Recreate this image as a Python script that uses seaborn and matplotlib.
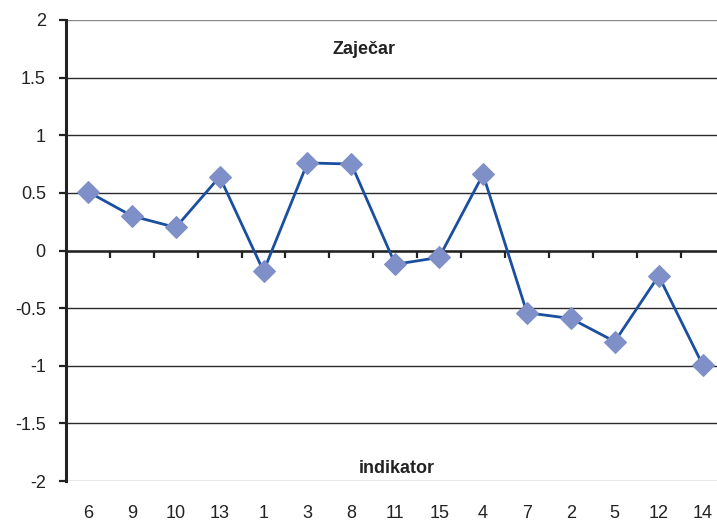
import matplotlib
matplotlib.use("Agg")
import matplotlib.pyplot as plt
import seaborn as sns
import numpy as np
import pandas as pd

categories = ["6", "9", "10", "13", "1", "3", "8", "11", "15", "4", "7", "2", "5", "12", "14"]
values = [0.51, 0.30, 0.20, 0.64, -0.18, 0.76, 0.75, -0.12, -0.06, 0.66, -0.54, -0.59, -0.79, -0.22, -0.99]
y_ticks = [-2, -1.5, -1, -0.5, 0, 0.5, 1, 1.5, 2]
y_ticklabels = ["-2", "-1.5", "-1", "-0.5", "0", "0.5", "1", "1.5", "2"]
title = "Zaječar"
xlabel = "indikator"

sns.set_style("white")
plt.rcParams['font.family'] = ['Liberation Sans', 'DejaVu Sans']

df = pd.DataFrame({"pos": np.arange(len(categories)), "val": values})

fig = plt.figure(figsize=(7.17, 5.22), dpi=100)
ax = fig.add_axes([66/717, 41/522, 658.5/717, 461/522])

# gridlines
for yv in y_ticks:
    col = "#8a8a8a" if abs(yv) == 2 else "#2a2a2a"
    ax.axhline(yv, color=col, lw=1.0, zorder=1)
ax.axhline(0, color="#222222", lw=1.8, zorder=2)
ax.vlines(np.arange(0.5, len(categories) - 1), -0.065, 0, color="#222222", lw=1.6, zorder=2)

sns.lineplot(data=df, x="pos", y="val", ax=ax, color="#1a4f9f", lw=2.0,
             marker="D", markersize=11, markerfacecolor="#7f8fc8",
             markeredgecolor="#7f8fc8", sort=False, zorder=3)

ax.set_xlim(-0.5, len(categories) - 0.5)
ax.set_ylim(-2, 2)
ax.set_xticks(np.arange(len(categories)))
ax.set_xticklabels(categories)
ax.set_yticks(y_ticks)
ax.set_yticklabels(y_ticklabels)
ax.tick_params(axis="x", length=0, pad=17, labelsize=13, labelcolor="#222222")
ax.tick_params(axis="y", length=5, width=1.6, color="#222222", direction="out",
               pad=9.5, labelsize=13, labelcolor="#222222", left=True)
for s in ["top", "right", "bottom"]:
    ax.spines[s].set_visible(False)
ax.spines["left"].set_color("#222222")
ax.spines["left"].set_linewidth(2.2)
ax.set_xlabel("")
ax.set_ylabel("")

ax.text(0.452, 0.935, title, transform=ax.transAxes, ha="center", va="center",
        fontsize=13, fontweight="bold", color="#222222")
ax.text(0.503, 0.028, xlabel, transform=ax.transAxes, ha="center", va="center",
        fontsize=13, fontweight="bold", color="#222222")

fig.savefig("out.png", dpi=100)
